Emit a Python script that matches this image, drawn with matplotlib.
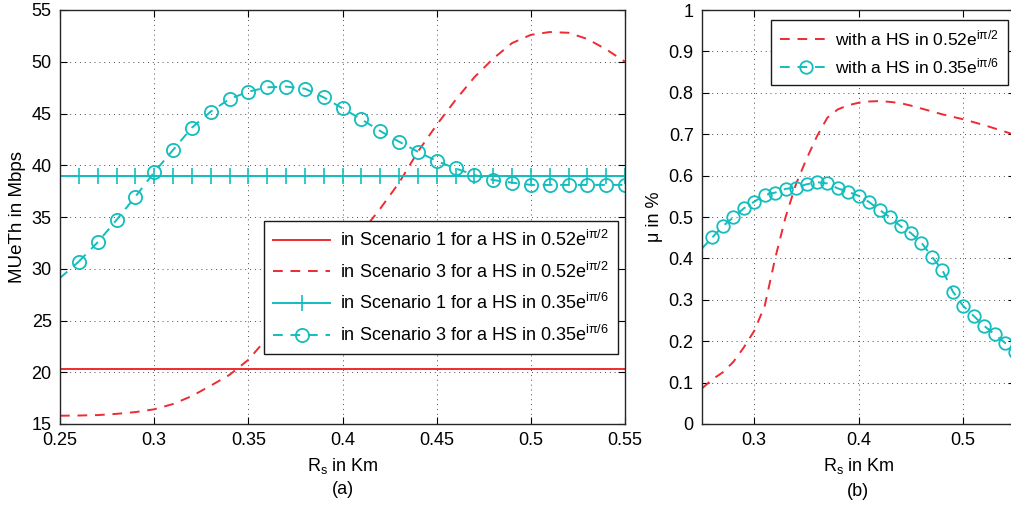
import matplotlib
matplotlib.use("Agg")
import matplotlib.pyplot as plt

plt.rcParams["font.family"] = ["Liberation Sans", "DejaVu Sans"]
plt.rcParams["mathtext.fontset"] = "custom"
plt.rcParams["mathtext.rm"] = "Liberation Sans"
plt.rcParams["mathtext.it"] = "Liberation Sans"
plt.rcParams["mathtext.default"] = "regular"

RED = "#ee2a33"
CYAN = "#14bdbd"
FS = 13
LFS = 13

# R_s in Km, sampled every 0.01
rs = [0.25, 0.26, 0.27, 0.28, 0.29, 0.30, 0.31, 0.32, 0.33, 0.34, 0.35,
      0.36, 0.37, 0.38, 0.39, 0.40, 0.41, 0.42, 0.43, 0.44, 0.45,
      0.46, 0.47, 0.48, 0.49, 0.50, 0.51, 0.52, 0.53, 0.54, 0.55]

# (a) MUeTh in Mbps
scen1_hs1 = [20.3] * len(rs)
scen3_hs1 = [15.8, 15.82, 15.86, 15.98, 16.15, 16.42, 16.93, 17.7, 18.7, 19.75, 21.2,
             23.3, 25.0, 26.9, 29.0, 31.2, 33.5, 35.8, 38.3, 41.3, 43.9,
             46.3, 48.5, 50.3, 51.8, 52.6, 52.87, 52.8, 52.2, 51.2, 50.0]
scen1_hs2 = [39.0] * len(rs)
scen3_hs2 = [29.1, 30.7, 32.56, 34.71, 36.96, 39.32, 41.47, 43.63, 45.18, 46.4, 47.11,
             47.53, 47.6, 47.4, 46.56, 45.5, 44.44, 43.31, 42.28, 41.31, 40.41,
             39.7, 39.06, 38.57, 38.32, 38.1, 38.1, 38.1, 38.1, 38.1, 38.1]

# (b) mu in %
mu_hs1 = [0.086, 0.108, 0.125, 0.150, 0.185, 0.225, 0.285, 0.40, 0.50, 0.58, 0.64,
          0.695, 0.74, 0.760, 0.770, 0.776, 0.779, 0.780, 0.778, 0.775, 0.769,
          0.762, 0.755, 0.748, 0.742, 0.736, 0.729, 0.722, 0.714, 0.706, 0.698]
mu_hs2 = [0.424, 0.451, 0.478, 0.499, 0.521, 0.537, 0.553, 0.559, 0.568, 0.571, 0.579,
          0.584, 0.581, 0.569, 0.561, 0.551, 0.536, 0.517, 0.499, 0.478, 0.461,
          0.438, 0.404, 0.372, 0.320, 0.285, 0.261, 0.237, 0.217, 0.196, 0.174]

lab_a = ["in Scenario 1 for a HS in 0.52e$^{i\u03c0/2}$",
         "in Scenario 3 for a HS in 0.52e$^{i\u03c0/2}$",
         "in Scenario 1 for a HS in 0.35e$^{i\u03c0/6}$",
         "in Scenario 3 for a HS in 0.35e$^{i\u03c0/6}$"]
lab_b = ["with a HS in 0.52e$^{i\u03c0/2}$",
         "with a HS in 0.35e$^{i\u03c0/6}$"]


def style_axes(ax):
    ax.grid(True, color="0.3", linestyle=(0, (1, 4)), linewidth=0.7)
    ax.tick_params(direction="in", top=True, right=True, labelsize=FS,
                   length=5, width=0.8, pad=6)
    for s in ax.spines.values():
        s.set_linewidth(1.0)
        s.set_color("0.15")


fig = plt.figure(figsize=(10.11, 5.07), dpi=100)
W, H = 1011, 507

ax1 = fig.add_axes([60 / W, 83 / H, 565 / W, 414 / H])
ax1.plot(rs, scen1_hs1, color=RED, lw=1.4, label=lab_a[0])
ax1.plot(rs, scen3_hs1, color=RED, lw=1.4, ls=(0, (5, 4)), label=lab_a[1])
ax1.plot(rs[1:], scen1_hs2[1:], color=CYAN, lw=1.4, marker="+", ms=11, mew=1.2,
         label=lab_a[2])
ax1.plot(rs[:2], scen1_hs2[:2], color=CYAN, lw=1.4)
ax1.plot(rs[1:], scen3_hs2[1:], color=CYAN, lw=1.4, ls=(0, (5, 4)), marker="o",
         ms=9.5, mfc="none", mew=1.3, label=lab_a[3])
ax1.plot(rs[:2], scen3_hs2[:2], color=CYAN, lw=1.4, ls=(0, (5, 4)))
ax1.set_xlim(0.25, 0.55)
ax1.set_ylim(15, 55)
ax1.set_xticks([0.25, 0.3, 0.35, 0.4, 0.45, 0.5, 0.55])
ax1.set_xticklabels(["0.25", "0.3", "0.35", "0.4", "0.45", "0.5", "0.55"])
ax1.set_yticks(range(15, 56, 5))
style_axes(ax1)
ax1.set_ylabel("MUeTh in Mbps", fontsize=13.5, labelpad=4)
ax1.set_xlabel("R$_s$ in Km", fontsize=FS, labelpad=5)
leg = ax1.legend(loc="lower right", bbox_to_anchor=(0.988, 0.169), fontsize=LFS,
                 fancybox=False, framealpha=1, edgecolor="0.1", handlelength=3.2,
                 labelspacing=0.64, borderpad=0.5, handletextpad=0.55,
                 borderaxespad=0)
leg.get_frame().set_linewidth(1.0)
fig.text(343 / W, 1 - 489 / H, "(a)", ha="center", va="center", fontsize=FS)

ax2 = fig.add_axes([702 / W, 83 / H, 313.5 / W, 414 / H])
ax2.plot(rs, mu_hs1, color=RED, lw=1.4, ls=(0, (5, 4)), label=lab_b[0])
ax2.plot(rs[1:], mu_hs2[1:], color=CYAN, lw=1.4, ls=(0, (5, 4)), marker="o",
         ms=9, mfc="none", mew=1.3, label=lab_b[1])
ax2.plot(rs[:2], mu_hs2[:2], color=CYAN, lw=1.4, ls=(0, (5, 4)))
ax2.set_xlim(0.25, 0.55)
ax2.set_ylim(0, 1)
ax2.set_xticks([0.3, 0.4, 0.5])
ax2.set_xticklabels(["0.3", "0.4", "0.5"])
ax2.set_yticks([i / 10 for i in range(11)])
ax2.set_yticklabels(["0"] + ["0.%d" % i for i in range(1, 10)] + ["1"])
style_axes(ax2)
ax2.set_ylabel("\u03bc in %", fontsize=FS, labelpad=4)
ax2.set_xlabel("R$_s$ in Km", fontsize=FS, labelpad=5)
leg2 = ax2.legend(loc="upper right", bbox_to_anchor=(0.976, 0.976), fontsize=12.5,
                  fancybox=False, framealpha=1, edgecolor="0.1", handlelength=3.0,
                  labelspacing=0.45, borderpad=0.5, handletextpad=0.2,
                  borderaxespad=0)
leg2.get_frame().set_linewidth(1.0)
fig.text(858 / W, 1 - 491 / H, "(b)", ha="center", va="center", fontsize=FS)

fig.savefig("out.png", dpi=100)
